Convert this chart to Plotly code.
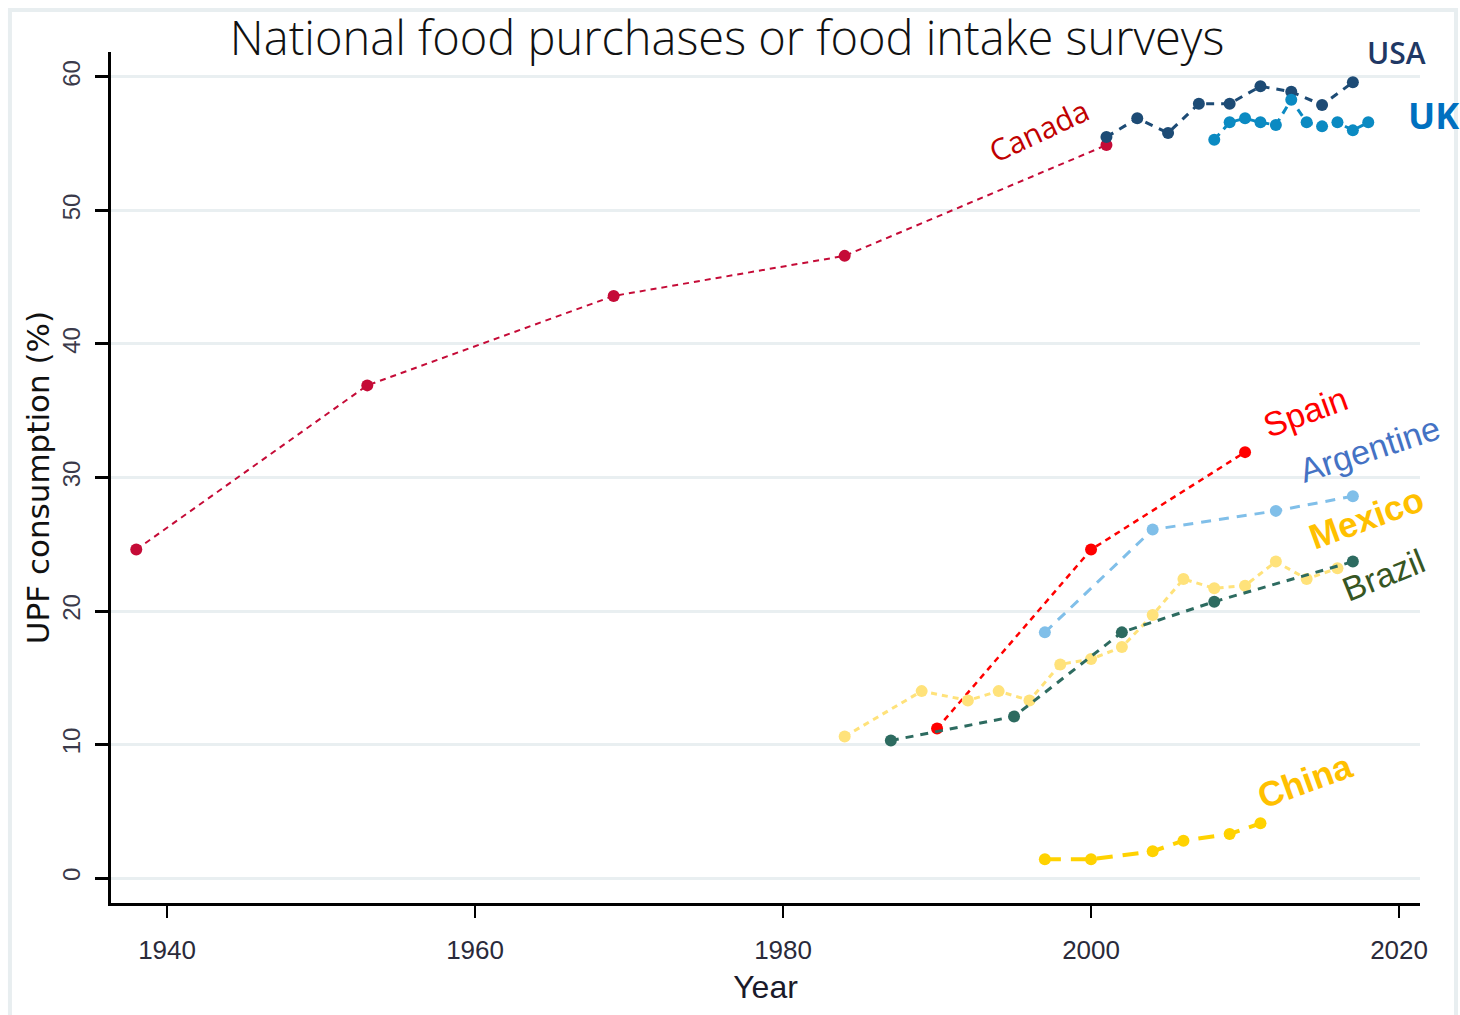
import plotly.graph_objects as go

# Share of ultra-processed foods (UPF) in national diets, by survey year
canada_years = [1938, 1953, 1969, 1984, 2001]
canada_upf = [24.6, 36.9, 43.6, 46.6, 54.9]

usa_years = [2001, 2003, 2005, 2007, 2009, 2011, 2013, 2015, 2017]
usa_upf = [55.5, 56.9, 55.8, 58.0, 58.0, 59.3, 58.9, 57.9, 59.6]

uk_years = [2008, 2009, 2010, 2011, 2012, 2013, 2014, 2015, 2016, 2017, 2018]
uk_upf = [55.3, 56.6, 56.9, 56.6, 56.4, 58.3, 56.6, 56.3, 56.6, 56.0, 56.6]

spain_years = [1990, 2000, 2010]
spain_upf = [11.2, 24.6, 31.9]

argentine_years = [1997, 2004, 2012, 2017]
argentine_upf = [18.4, 26.1, 27.5, 28.6]

mexico_years = [1984, 1989, 1992, 1994, 1996, 1998, 2000, 2002, 2004, 2006, 2008, 2010, 2012, 2014, 2016]
mexico_upf = [10.6, 14.0, 13.3, 14.0, 13.3, 16.0, 16.4, 17.3, 19.7, 22.4, 21.7, 21.9, 23.7, 22.4, 23.2]

brazil_years = [1987, 1995, 2002, 2008, 2017]
brazil_upf = [10.3, 12.1, 18.4, 20.7, 23.7]

china_years = [1997, 2000, 2004, 2006, 2009, 2011]
china_upf = [1.4, 1.4, 2.0, 2.8, 3.3, 4.1]

x_ticks = [1940, 1960, 1980, 2000, 2020]
y_ticks = [0, 10, 20, 30, 40, 50, 60]

series = [
    (canada_years, canada_upf, "#c50b37", 2, "6px,5px"),
    (usa_years, usa_upf, "#1d4b75", 3, "8px,7px"),
    (uk_years, uk_upf, "#0b8ac2", 3, "8px,6px"),
    (spain_years, spain_upf, "#ff0000", 2.5, "6px,5px"),
    (argentine_years, argentine_upf, "#80bfe9", 3, "10px,8px"),
    (mexico_years, mexico_upf, "#ffe27a", 3, "6px,5px"),
    (brazil_years, brazil_upf, "#2d6b60", 3, "8px,7px"),
    (china_years, china_upf, "#ffd200", 4, "16px,10px"),
]

fig = go.Figure()
for xs, ys, color, width, dash in series:
    fig.add_trace(go.Scatter(
        x=xs, y=ys, mode="lines+markers",
        line=dict(color=color, width=width, dash=dash),
        marker=dict(color=color, size=12, symbol="circle"),
        showlegend=False, hoverinfo="skip",
    ))

# Country labels next to their series (data coordinates inside the axes)
labels = [
    ("Canada", 1996.6, 56.0, "#c00000", 30, -25, "Open Sans", 400),
    ("Spain", 2013.9, 34.9, "#ff0000", 34, -20, "Liberation Sans", 400),
    ("Argentine", 2018.1, 32.1, "#4472c4", 34, -18, "Liberation Sans", 400),
    ("Mexico", 2017.9, 27.0, "#ffc000", 35, -20, "Liberation Sans", 700),
    ("Brazil", 2019.0, 22.7, "#375623", 34, -22, "Liberation Sans", 400),
    ("China", 2013.9, 7.3, "#ffc000", 35, -20, "Liberation Sans", 700),
]
for text, lx, ly, color, size, angle, family, weight in labels:
    fig.add_annotation(
        x=lx, y=ly, text=text, showarrow=False, textangle=angle,
        font=dict(family=family, size=size, color=color, weight=weight),
        xanchor="center", yanchor="middle",
    )

# Labels that sit just outside the axes use paper coordinates
paper_labels = [
    ("USA", 0.9817, 1.0, "#1f3864", 30, 600),
    ("UK", 1.01, 0.9248, "#0070c0", 36, 700),
]
for text, px, py, color, size, weight in paper_labels:
    fig.add_annotation(
        x=px, y=py, xref="paper", yref="paper", text=text, showarrow=False,
        font=dict(family="Open Sans", size=size, color=color, weight=weight),
        xanchor="center", yanchor="middle",
    )

# Thin frame around the figure
fig.add_shape(type="rect", xref="paper", yref="paper",
              x0=-0.0772, x1=1.0275, y0=-0.2, y1=1.0494,
              line=dict(color="#e8eef0", width=4), layer="below")

fig.update_layout(
    width=1460, height=1015,
    margin=dict(l=111, r=40, t=52, b=112),
    paper_bgcolor="white", plot_bgcolor="white",
    title=dict(
        text="National food purchases or food intake surveys",
        x=0.498, xanchor="center", y=0.962, yanchor="middle",
        font=dict(family="Open Sans", size=47, color="#111111", weight=300),
    ),
    xaxis=dict(
        range=[1936.36, 2021.36], tickvals=x_ticks,
        showgrid=False, zeroline=False,
        showline=True, linecolor="black", linewidth=3,
        ticks="outside", ticklen=12, tickwidth=2, tickcolor="black",
        tickfont=dict(family="Liberation Sans Narrow, Liberation Sans", size=26, color="#2a2a3a"),
        ticklabelstandoff=10,
        title=dict(text="Year", standoff=12,
                   font=dict(family="Liberation Sans Narrow, Liberation Sans", size=32, color="#1a1a2a")),
    ),
    yaxis=dict(
        range=[-1.87, 61.87], tickvals=y_ticks,
        showgrid=True, gridcolor="#e9eff1", gridwidth=3,
        zeroline=False,
        showline=True, linecolor="black", linewidth=3,
        ticks="outside", ticklen=13, tickwidth=3, tickcolor="black",
        tickangle=-90,
        tickfont=dict(family="Liberation Sans Narrow, Liberation Sans", size=24, color="#3a3a4a"),
        ticklabelstandoff=5,
        title=dict(text="UPF consumption (%)", standoff=0,
                   font=dict(family="DejaVu Sans", size=31, color="#111111")),
    ),
)

fig.write_html("out.html")
